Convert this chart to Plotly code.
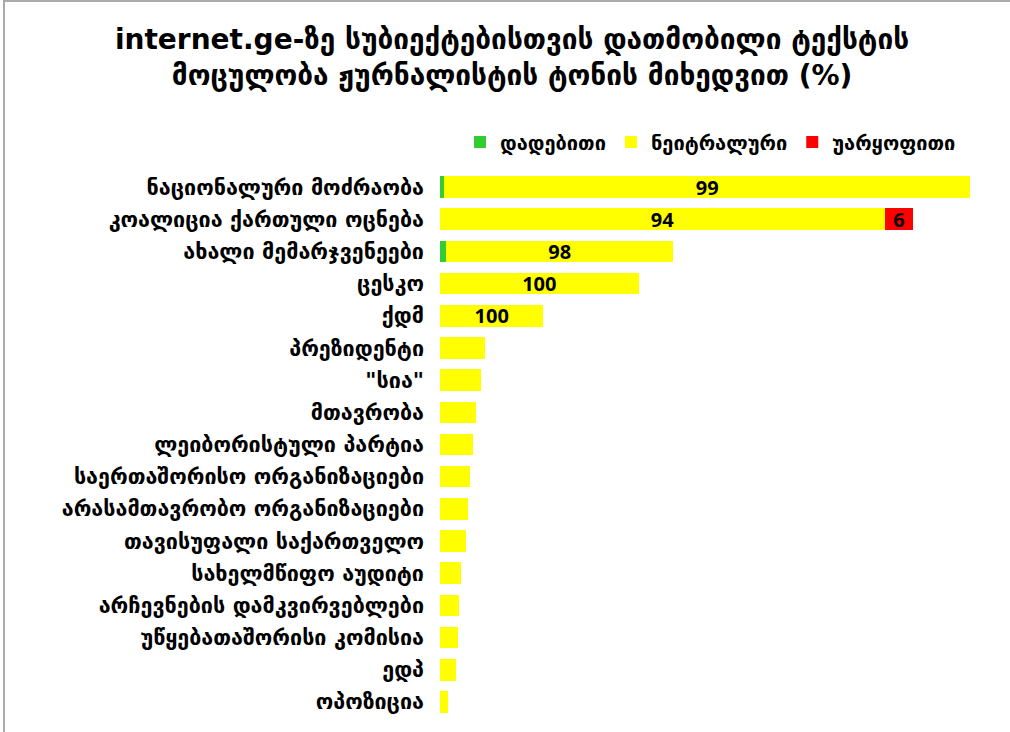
import plotly.graph_objects as go

categories = [
    "ნაციონალური მოძრაობა",
    "კოალიცია ქართული ოცნება",
    "ახალი მემარჯვენეები",
    "ცესკო",
    "ქდმ",
    "პრეზიდენტი",
    "\"სია\"",
    "მთავრობა",
    "ლეიბორისტული პარტია",
    "საერთაშორისო ორგანიზაციები",
    "არასამთავრობო ორგანიზაციები",
    "თავისუფალი საქართველო",
    "სახელმწიფო აუდიტი",
    "არჩევნების დამკვირვებლები",
    "უწყებათაშორისი კომისია",
    "ედპ",
    "ოპოზიცია",
]
# text volume by tone (arbitrary units)
positive = [4.3, 0, 6.0, 0, 0, 0, 0, 0, 0, 0, 0, 0, 0, 0, 0, 0, 0]
neutral = [524.7, 444.3, 227.0, 198.3, 103.3, 45.0, 41.3, 35.7, 33.0, 30.0, 28.0,
           25.7, 21.0, 19.3, 18.0, 16.3, 7.7]
negative = [0, 27.4, 0, 0, 0, 0, 0, 0, 0, 0, 0, 0, 0, 0, 0, 0, 0]
# percentage labels shown on the bars
neutral_labels = ["99", "94", "98", "100", "100"] + [""] * 12
negative_labels = ["", "6"] + [""] * 15

series_names = ["დადებითი", "ნეიტრალური", "უარყოფითი"]
colors = ["#33CC33", "#FFFF00", "#FF0000"]

W, H = 1010, 732
ML, MR, MT, MB = 440, 35, 171, 14
PW = W - ML - MR
PH = H - MT - MB

geo_font = "DejaVu Sans"
num_font = "Open Sans, Liberation Sans, sans-serif"

fig = go.Figure()
fig.add_trace(go.Bar(
    y=categories, x=positive, orientation="h", name=series_names[0],
    marker=dict(color=colors[0], line=dict(width=0)),
))
fig.add_trace(go.Bar(
    y=categories, x=neutral, orientation="h", name=series_names[1],
    marker=dict(color=colors[1], line=dict(width=0)),
    text=neutral_labels, textposition="inside", insidetextanchor="middle",
    constraintext="none", cliponaxis=False,
    textfont=dict(family=num_font, size=20, color="black", weight="bold"),
    textangle=0,
))
fig.add_trace(go.Bar(
    y=categories, x=negative, orientation="h", name=series_names[2],
    marker=dict(color=colors[2], line=dict(width=0)),
    text=negative_labels, textposition="inside", insidetextanchor="middle",
    constraintext="none", cliponaxis=False,
    textfont=dict(family=num_font, size=20, color="black", weight="bold"),
    textangle=0,
))

def px_x(px):
    return (px - ML) / PW

def px_y(py):
    return (H - MB - py) / PH

fig.update_layout(
    width=W, height=H,
    barmode="stack", bargap=0.33,
    uniformtext=dict(mode=False),
    margin=dict(l=ML, r=MR, t=MT, b=MB),
    paper_bgcolor="white", plot_bgcolor="white",
    title=dict(
        text="internet.ge-ზე სუბიექტებისთვის დათმობილი ტექსტის<br>მოცულობა ჟურნალისტის ტონის მიხედვით (%)",
        x=0.507, xref="container", xanchor="center",
        y=1 - 49 / H, yanchor="middle", yref="container",
        font=dict(family=geo_font, size=28, color="black", weight="bold"),
    ),
    legend=dict(
        orientation="h", x=px_x(460), xanchor="left", y=px_y(142), yanchor="middle",
        font=dict(family=geo_font, size=20, color="black", weight="bold"),
        traceorder="normal", itemwidth=30,
    ),
    xaxis=dict(range=[0, 534], visible=False, fixedrange=True),
    yaxis=dict(
        autorange="reversed", showline=False, showgrid=False, ticks="",
        tickfont=dict(family=geo_font, size=21.5, color="black", weight="bold"),
        ticklabelstandoff=15,
    ),
    showlegend=True,
    shapes=[
        dict(type="line", xref="paper", yref="paper", x0=px_x(4), x1=px_x(4),
             y0=px_y(0), y1=px_y(H), line=dict(color="#AAAAAA", width=2)),
        dict(type="line", xref="paper", yref="paper", x0=px_x(4), x1=px_x(W),
             y0=px_y(1), y1=px_y(1), line=dict(color="#AAAAAA", width=2)),
    ],
)

fig.write_html(
    "out.html",
    config={"displayModeBar": False},
    post_script="document.body.style.margin='0';document.body.style.overflow='hidden';",
)
